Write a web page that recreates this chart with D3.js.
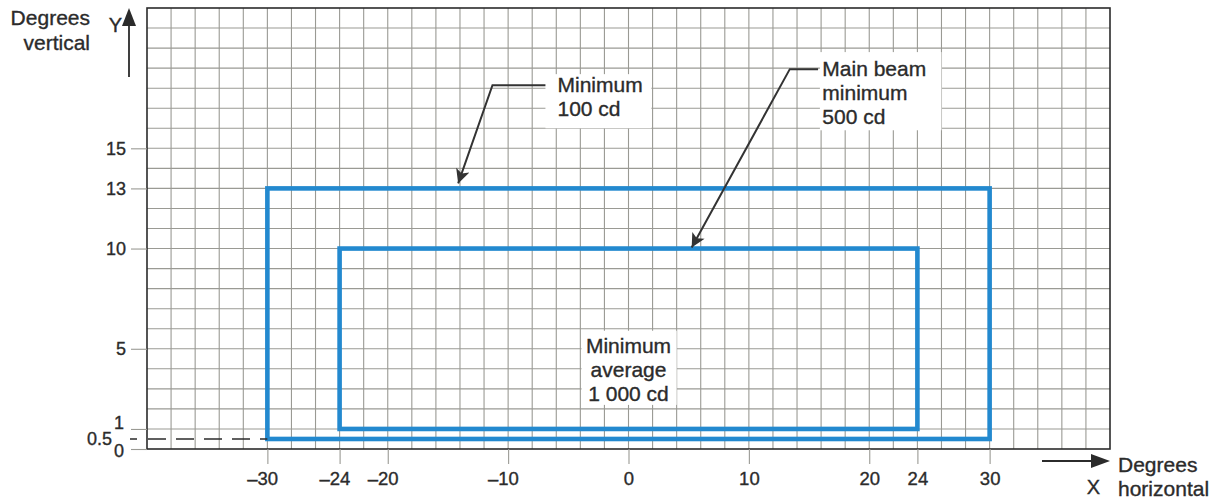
<!DOCTYPE html>
<html>
<head>
<meta charset="utf-8">
<script src="https://cdn.jsdelivr.net/npm/d3@7"></script>
<style>
  html, body { margin: 0; padding: 0; background: #ffffff; }
  svg { display: block; }
  text { font-family: "Liberation Sans", Arial, Helvetica, sans-serif; fill: #2b2b2b; stroke: #2b2b2b; stroke-width: 0.35px; }
</style>
</head>
<body>
<svg id="chart" width="1224" height="503"></svg>
<script>
// ---- data ----
const xDomain = [-40, 40];
const yDomain = [0, 22];
const xGridStep = 2;
const yGridStep = 1;
const xTickValues = [-30, -24, -20, -10, 0, 10, 20, 24, 30];
const xTickLabels = ["–30", "–24", "–20", "–10", "0", "10", "20", "24", "30"];
const yTickValues = [15, 13, 10, 5, 1, 0];
const yTickLabels = ["15", "13", "10", "5", "1", "0"];
const yDashedValue = 0.5;
const yDashedLabel = "0.5";

// zones (rectangles) : outer = minimum 100 cd, inner = main beam 500 cd
const zoneNames = ["Minimum 100 cd", "Main beam minimum 500 cd"];
const zoneX0 = [-30, -24];
const zoneX1 = [30, 24];
const zoneY0 = [0.5, 1];
const zoneY1 = [13, 10];

// annotations (data coordinates)
const annoLines = [["Minimum", "100 cd"], ["Main beam", "minimum", "500 cd"], ["Minimum", "average", "1 000 cd"]];
const annoBoxX = [[-6.9, 1.9], [15.9, 26.0], [-3.9, 4.0]];
const annoBoxY = [[18.7, 16.0], [19.8, 15.9], [5.9, 2.2]];
const annoTextX = [-5.9, 16.1, 0.0];
const annoTextY = [17.8, 18.6, 4.8];
const annoAnchor = ["start", "start", "middle"];
const leaderPts = [
  [[-6.9, 18.15], [-11.3, 18.15], [-14.15, 13.25]],
  [[15.75, 18.95], [13.4, 18.95], [5.25, 10.05]]
];

// ---- layout ----
const svg = d3.select("#chart");
const x = d3.scaleLinear().domain(xDomain).range([147, 1110]);
const y = d3.scaleLinear().domain(yDomain).range([449, 8]);

const gridColor = "#9a9a94";
const ink = "#2b2b2b";
const blue = "#2389cf";

svg.append("rect").attr("width", 1224).attr("height", 503).attr("fill", "#ffffff");

// grid
const gGrid = svg.append("g");
gGrid.selectAll("line.v").data(d3.range(xDomain[0] + xGridStep, xDomain[1], xGridStep))
  .join("line")
  .attr("x1", d => x(d)).attr("x2", d => x(d))
  .attr("y1", y(yDomain[1])).attr("y2", y(yDomain[0]))
  .attr("stroke", gridColor).attr("stroke-width", 1.1);
gGrid.selectAll("line.h").data(d3.range(yDomain[0] + yGridStep, yDomain[1], yGridStep))
  .join("line")
  .attr("y1", d => y(d)).attr("y2", d => y(d))
  .attr("x1", x(xDomain[0])).attr("x2", x(xDomain[1]))
  .attr("stroke", gridColor).attr("stroke-width", 1.1);

// frame
svg.append("rect")
  .attr("x", x(xDomain[0])).attr("y", y(yDomain[1]))
  .attr("width", x(xDomain[1]) - x(xDomain[0]))
  .attr("height", y(yDomain[0]) - y(yDomain[1]))
  .attr("fill", "none").attr("stroke", ink).attr("stroke-width", 1.6);

// zones
svg.append("g").selectAll("rect").data(zoneNames)
  .join("rect")
  .attr("x", (d, i) => x(zoneX0[i]))
  .attr("y", (d, i) => y(zoneY1[i]))
  .attr("width", (d, i) => x(zoneX1[i]) - x(zoneX0[i]))
  .attr("height", (d, i) => y(zoneY0[i]) - y(zoneY1[i]))
  .attr("fill", "none").attr("stroke", blue).attr("stroke-width", 4.6);

// annotation boxes
const gAnno = svg.append("g");
annoLines.forEach((lines, i) => {
  gAnno.append("rect")
    .attr("x", x(annoBoxX[i][0])).attr("y", y(annoBoxY[i][0]))
    .attr("width", x(annoBoxX[i][1]) - x(annoBoxX[i][0]))
    .attr("height", y(annoBoxY[i][1]) - y(annoBoxY[i][0]))
    .attr("fill", "#ffffff");
  const t = gAnno.append("text")
    .attr("x", x(annoTextX[i])).attr("y", y(annoTextY[i]))
    .attr("text-anchor", annoAnchor[i])
    .style("font-size", "21px");
  lines.forEach((ln, j) => {
    t.append("tspan").attr("x", x(annoTextX[i])).attr("dy", j === 0 ? 0 : 24).text(ln);
  });
});

// arrow marker
const defs = svg.append("defs");
defs.append("marker").attr("id", "ah")
  .attr("viewBox", "0 0 10 10").attr("refX", 10).attr("refY", 5)
  .attr("markerWidth", 20).attr("markerHeight", 14).attr("markerUnits", "userSpaceOnUse")
  .attr("orient", "auto")
  .append("path").attr("d", "M0,0 L10,5 L0,10 L2.5,5 Z").attr("fill", "#333");

const lineGen = d3.line().x(d => x(d[0])).y(d => y(d[1]));
svg.append("g").selectAll("path").data(leaderPts)
  .join("path")
  .attr("d", lineGen)
  .attr("fill", "none").attr("stroke", "#333").attr("stroke-width", 2)
  .attr("marker-end", "url(#ah)");

// x axis
const xAxis = d3.axisBottom(x).tickValues(xTickValues)
  .tickFormat((d, i) => xTickLabels[i]).tickSize(15).tickPadding(8);
const gx = svg.append("g").attr("transform", `translate(0,${y(yDomain[0])})`).call(xAxis);
gx.select(".domain").remove();
gx.selectAll(".tick line").attr("stroke", gridColor).attr("stroke-width", 1.1);
gx.selectAll(".tick text").style("font-size", "18.5px").attr("fill", ink)
  .style("font-family", "Liberation Sans, Arial, sans-serif")
  .attr("dx", d => d < 0 ? "-0.278em" : 0);

// y axis
const yAxis = d3.axisLeft(y).tickValues(yTickValues)
  .tickFormat((d, i) => yTickLabels[i]).tickSize(16).tickPadding(5);
const gy = svg.append("g").attr("transform", `translate(${x(xDomain[0])},0)`).call(yAxis);
gy.select(".domain").remove();
gy.selectAll(".tick line").attr("stroke", gridColor).attr("stroke-width", 1.1);
gy.selectAll(".tick text").style("font-size", "18px").attr("fill", ink)
  .style("font-family", "Liberation Sans, Arial, sans-serif")
  .attr("dy", d => d === 1 ? "-0.05em" : (d === 0 ? "0.42em" : "0.32em"))
  .attr("x", d => (d === 1 || d === 0) ? -23 : -21);

// 0.5 dashed reference line
svg.append("line")
  .attr("x1", x(xDomain[0]) - 17).attr("x2", x(zoneX0[0]))
  .attr("y1", y(yDashedValue)).attr("y2", y(yDashedValue))
  .attr("stroke", ink).attr("stroke-width", 1.3)
  .attr("stroke-dasharray", "7,11,18,10,18,10,18,10,18,10,18");
svg.append("text")
  .attr("x", x(xDomain[0]) - 35).attr("y", y(yDashedValue))
  .attr("dy", "0.35em").attr("text-anchor", "end")
  .style("font-size", "18px").text(yDashedLabel);

// axis arrows
const axX = x(xDomain[0]) - 18;
svg.append("line").attr("x1", axX).attr("x2", axX)
  .attr("y1", y(yDomain[1]) + 69).attr("y2", y(yDomain[1]) + 14)
  .attr("stroke", ink).attr("stroke-width", 1.8);
svg.append("path")
  .attr("d", `M${axX},${y(yDomain[1])} L${axX + 7},${y(yDomain[1]) + 18} L${axX - 7},${y(yDomain[1]) + 18} Z`)
  .attr("fill", ink);
svg.append("text").attr("x", axX - 7).attr("y", y(yDomain[1]) + 24)
  .attr("text-anchor", "end").style("font-size", "20px").text("Y");
svg.append("text").attr("x", 90).attr("y", 25).attr("text-anchor", "end")
  .style("font-size", "21px")
  .call(t => {
    t.append("tspan").attr("x", 90).attr("dy", 0).text("Degrees");
    t.append("tspan").attr("x", 90).attr("dy", 25).text("vertical");
  });

const axY = y(yDomain[0]) + 12;
svg.append("line").attr("x1", x(xDomain[1]) - 68).attr("x2", x(xDomain[1]) - 16)
  .attr("y1", axY).attr("y2", axY)
  .attr("stroke", ink).attr("stroke-width", 1.8);
svg.append("path")
  .attr("d", `M${x(xDomain[1])},${axY} L${x(xDomain[1]) - 19},${axY - 7} L${x(xDomain[1]) - 19},${axY + 7} Z`)
  .attr("fill", ink);
svg.append("text").attr("x", x(xDomain[1]) - 10).attr("y", 494)
  .attr("text-anchor", "end").style("font-size", "20px").text("X");
svg.append("text").attr("x", 1118).attr("y", 472)
  .style("font-size", "21px")
  .call(t => {
    t.append("tspan").attr("x", 1118).attr("dy", 0).text("Degrees");
    t.append("tspan").attr("x", 1118).attr("dy", 24).text("horizontal");
  });
</script>
</body>
</html>
